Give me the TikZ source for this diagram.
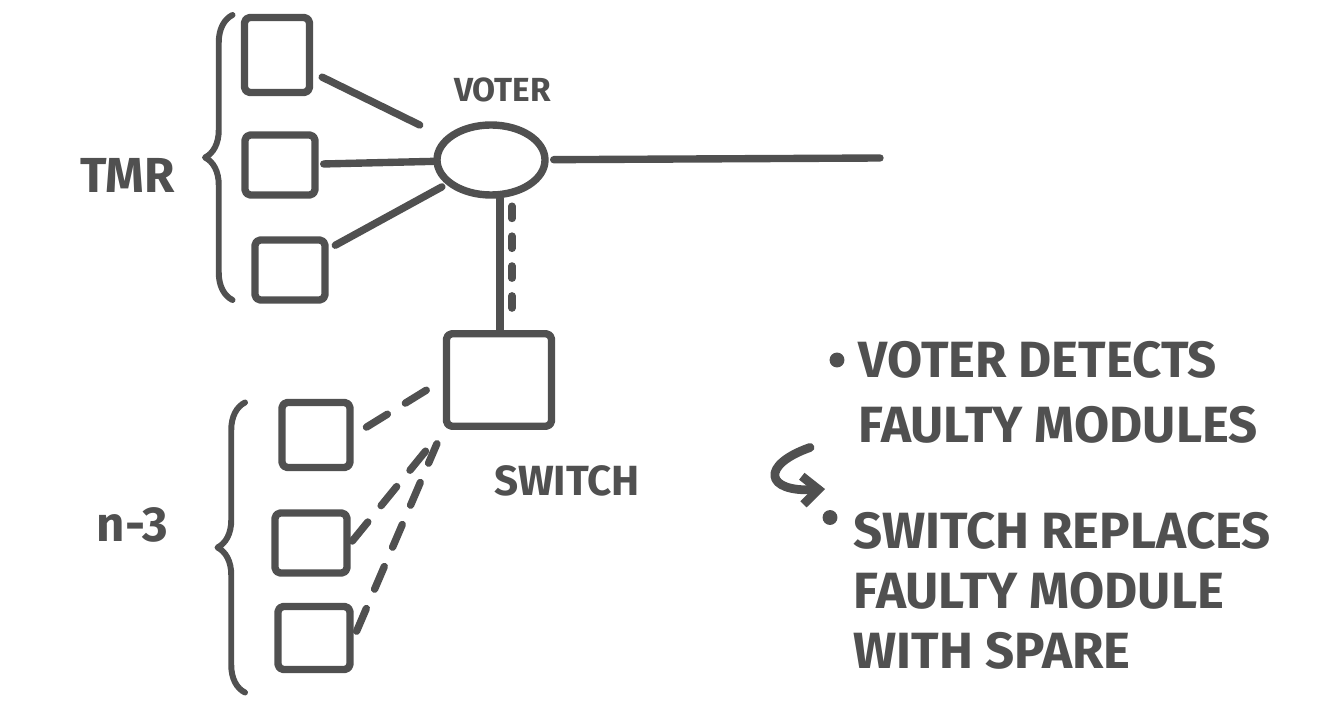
\documentclass[tikz,border=0pt]{standalone}
\usepackage{fontspec}
\setsansfont{Fira Sans}
\usepackage{xcolor}
\usetikzlibrary{positioning,shapes.geometric,arrows.meta,decorations.pathreplacing,calc}

\definecolor{ink}{RGB}{80,80,80}

\tikzset{
  pen/.style={draw=ink, line width=4.2pt, line cap=round, line join=round},
  module/.style={pen, rectangle, rounded corners=3pt, minimum width=1.4cm, minimum height=1.2cm},
  hand/.style={text=ink, font=\sffamily\bfseries\fontsize{29}{37}\selectfont},
  spare link/.style={pen, dash pattern=on 14pt off 12pt},
  dotlink/.style={pen, dash pattern=on 7pt off 10pt}
}

\begin{document}
\begin{tikzpicture}[>=Latex]
% 50px of the page = 1cm
\useasboundingbox (0,0) rectangle (26.54,-14.04);

%% --- TMR modules and voter -------------------------------------
\node[module, minimum width=1.3cm, minimum height=1.5cm] (m1) at (5.54,-1.1) {};
\node[module] (m2) at (5.6,-3.3) {};
\node[module] (m3) at (5.8,-5.4) {};

\node[pen, ellipse, minimum width=2.16cm, minimum height=1.4cm] (voter) at (9.82,-3.2) {};
\node[hand, font=\sffamily\bfseries\fontsize{19}{22}\selectfont] (voterlbl) at (10.05,-1.8) {VOTER};
\coordinate (out) at (17.6,-3.16);

\draw[pen, shorten <=0.2cm, shorten >=0.55cm] (m1) -- (voter);
\draw[pen, shorten <=0.1cm] (m2) -- (voter);
\draw[pen, shorten <=0.15cm, shorten >=0.1cm] (m3) -- (voter);
\draw[pen, shorten <=0.1cm] (voter) -- (out);

%% --- Brace + TMR label -----------------------------------------
\coordinate (tmrlow) at (4.65,-6.0);
\coordinate (tmrhigh) at (4.65,-0.3);
\draw[pen, line width=3.4pt, decorate, decoration={brace, amplitude=0.55cm}] (tmrlow) -- (tmrhigh);
\node[hand, font=\sffamily\bfseries\fontsize{28}{30}\selectfont] (tmr) at (2.55,-3.5) {TMR};

%% --- Switch ----------------------------------------------------
\node[module, minimum width=2.1cm, minimum height=1.85cm] (switch) at (9.98,-7.6) {};
\node[hand, font=\sffamily\bfseries\fontsize{24}{28}\selectfont] (switchlbl) at (11.34,-9.62) {SWITCH};

% solid + dotted feed from voter down to switch
\coordinate (vsolid) at ([xshift=0.18cm]voter.south);
\coordinate (vdot) at ([xshift=0.42cm]voter.south);
\draw[pen] (vsolid) -- (vsolid |- switch.north);
\draw[dotlink, shorten <=0.15cm, shorten >=0.15cm] (vdot) -- (vdot |- switch.north);

%% --- Spares (n-3) ----------------------------------------------
\node[module, minimum width=1.36cm, minimum height=1.3cm] (s1) at (6.32,-8.7) {};
\node[module, minimum width=1.44cm] (s2) at (6.22,-10.86) {};
\node[module, minimum width=1.44cm, minimum height=1.26cm] (s3) at (6.28,-12.76) {};

\draw[spare link, shorten <=0.3cm, shorten >=0.1cm] (s1.east) -- (switch.west);
\draw[spare link, shorten <=0.05cm, shorten >=0.2cm] (s2.east) -- (switch.south west);
\draw[spare link, shorten <=0.15cm, shorten >=0.3cm] (s3.east) -- (switch.south west);

\coordinate (sparelow) at (4.9,-13.85);
\coordinate (sparehigh) at (4.9,-8.05);
\draw[pen, line width=3.4pt, decorate, decoration={brace, amplitude=0.55cm}] (sparelow) -- (sparehigh);
\node[hand, font=\sffamily\bfseries\fontsize{28}{30}\selectfont] (nspare) at (2.65,-10.5) {n-3};

%% --- Notes on the right ----------------------------------------
\node[circle, fill=ink, inner sep=3pt] (dot1) at (16.74,-7.2) {};
\node[hand, anchor=west, align=left] (note1) at (17.05,-7.85)
     {VOTER DETECTS\\FAULTY MODULES};

\node[circle, fill=ink, inner sep=3pt] (dot2) at (16.6,-10.35) {};
\node[hand, anchor=west, align=left, font=\sffamily\bfseries\fontsize{29}{34}\selectfont] (note2) at (16.95,-11.82)
     {SWITCH REPLACES\\FAULTY MODULE\\WITH SPARE};

% hook arrow between the two notes
\coordinate (hooktop) at (16.2,-8.95);
\coordinate (hooktip) at (16.5,-9.78);
\draw[pen, line width=5pt, -{Straight Barb[length=9pt,width=16pt]}] (hooktop) .. controls (15.2,-9.3) and (15.3,-9.85) .. (hooktip);

\end{tikzpicture}
\end{document}
